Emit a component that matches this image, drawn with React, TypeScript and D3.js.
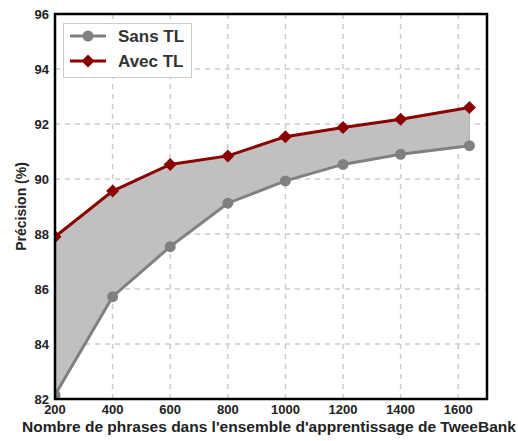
import React from "react";
import * as d3 from "d3";

const sizes = [200, 400, 600, 800, 1000, 1200, 1400, 1639];
const sansTL = [82.15, 85.72, 87.54, 89.12, 89.93, 90.53, 90.9, 91.21];
const avecTL = [87.9, 89.56, 90.53, 90.84, 91.54, 91.87, 92.17, 92.6];
const xTicks = [200, 400, 600, 800, 1000, 1200, 1400, 1600];
const yTicks = [82, 84, 86, 88, 90, 92, 94, 96];

const W = 518, H = 441;
const L = 55, R = 487, T = 14, B = 399;

export default function App() {
  const x = d3.scaleLinear().domain([200, 1700]).range([L, R]);
  const y = d3.scaleLinear().domain([82, 96]).range([B, T]);
  const idx = sizes.map((_, i) => i);
  const line = (vals: number[]) =>
    d3.line<number>().x((i) => x(sizes[i])).y((i) => y(vals[i]))(idx) as string;
  const area = d3
    .area<number>()
    .x((i) => x(sizes[i]))
    .y0((i) => y(sansTL[i]))
    .y1((i) => y(avecTL[i]))(idx) as string;
  const diamond = (cx: number, cy: number, r: number) =>
    `M${cx},${cy - r}L${cx + r},${cy}L${cx},${cy + r}L${cx - r},${cy}Z`;
  const font = "'Liberation Sans', Arial, sans-serif";

  return (
    <svg width={W} height={H} style={{ position: "absolute", left: 0, top: 0 }} fontFamily={font}>
      <rect width={W} height={H} fill="white" />
      <defs>
        <clipPath id="clip">
          <rect x={L} y={T} width={R - L} height={B - T} />
        </clipPath>
      </defs>
      {xTicks.map((t) => (
        <line key={"gx" + t} x1={x(t)} x2={x(t)} y1={T} y2={B} stroke="#cccccc" strokeWidth={1.5} strokeDasharray="5,5" />
      ))}
      {yTicks.map((t) => (
        <line key={"gy" + t} x1={L} x2={R} y1={y(t)} y2={y(t)} stroke="#cccccc" strokeWidth={1.5} strokeDasharray="5,5" />
      ))}
      <g clipPath="url(#clip)">
        <path d={area} fill="#c0c0c0" stroke="#b0b0b0" strokeWidth={1} />
        <path d={line(sansTL)} fill="none" stroke="#808080" strokeWidth={3} />
        <path d={line(avecTL)} fill="none" stroke="#8b0000" strokeWidth={3} />
        {idx.map((i) => (
          <circle key={"c" + i} cx={x(sizes[i])} cy={y(sansTL[i])} r={5.5} fill="#808080" />
        ))}
        {idx.map((i) => (
          <path key={"d" + i} d={diamond(x(sizes[i]), y(avecTL[i]), 6.5)} fill="#8b0000" />
        ))}
      </g>
      <rect x={L} y={T} width={R - L} height={B - T} fill="none" stroke="black" strokeWidth={2.5} />
      {xTicks.map((t) => (
        <text key={"tx" + t} x={x(t)} y={B + 15} textAnchor="middle" fontSize={13} fontWeight="bold" fill="#222">
          {t}
        </text>
      ))}
      {yTicks.map((t) => (
        <text key={"ty" + t} x={L - 6} y={y(t) + 4.5} textAnchor="end" fontSize={13} fontWeight="bold" fill="#222">
          {t}
        </text>
      ))}
      <text x={269} y={432} textAnchor="middle" fontSize={15.5} fontWeight="bold" fill="#222">
        Nombre de phrases dans l'ensemble d'apprentissage de TweeBank
      </text>
      <text transform={`translate(26,${(T + B) / 2}) rotate(-90)`} textAnchor="middle" fontSize={14} fontWeight="bold" fill="#222">
        Précision (%)
      </text>
      <g>
        <rect x={63.5} y={23.5} width={128} height={54} fill="white" stroke="#cccccc" strokeWidth={1} />
        <line x1={70} x2={106} y1={36} y2={36} stroke="#808080" strokeWidth={3} />
        <circle cx={88} cy={36} r={5.5} fill="#808080" />
        <text x={118} y={42} fontSize={17} fontWeight="bold" fill="#333">Sans TL</text>
        <line x1={70} x2={106} y1={61} y2={61} stroke="#8b0000" strokeWidth={3} />
        <path d={diamond(88, 61, 6.5)} fill="#8b0000" />
        <text x={118} y={67} fontSize={17} fontWeight="bold" fill="#333">Avec TL</text>
      </g>
    </svg>
  );
}
